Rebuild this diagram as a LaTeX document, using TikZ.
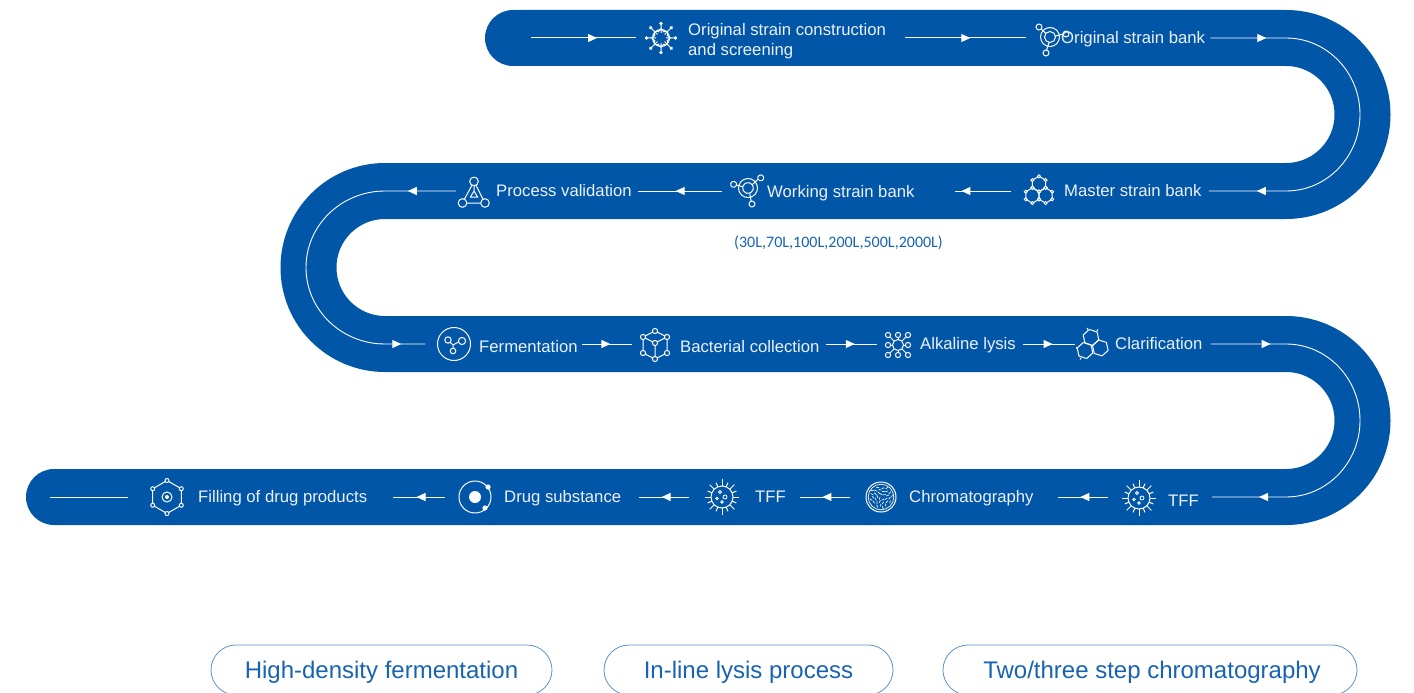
\documentclass[tikz,border=0pt]{standalone}
\usepackage{fontspec}
\setmainfont{Liberation Sans}
\newfontfamily\volfont{Carlito}
\usetikzlibrary{arrows.meta, decorations.markings}

\definecolor{bandblue}{HTML}{0256A8}
\definecolor{inkblue}{HTML}{1763B2}
\definecolor{pillblue}{HTML}{5C93C8}

\newcommand{\hexring}[4]{\draw[iconline,shift={(#1,#2)},rotate=#3] (30:#4)--(90:#4)--(150:#4)--(210:#4)--(270:#4)--(330:#4)--cycle;}

\tikzset{
  band/.style={draw=bandblue,line width=56pt,line cap=round},
  flow/.style={draw=white,line width=1pt,postaction={decorate},
    decoration={markings,mark=at position #1 with {\arrow{Triangle[length=9pt,width=8pt]}}}},
  longflow/.style 2 args={draw=white,line width=.9pt,postaction={decorate},
    decoration={markings,
      mark=at position #1 with {\arrow{Triangle[length=9pt,width=8pt]}},
      mark=at position #2 with {\arrow{Triangle[length=9pt,width=8pt]}}}},
  steplabel/.style={anchor=base west,inner sep=0pt,text=white!92!bandblue,font=\fontsize{16.7}{20}\selectfont},
  iconnode/.style={circle,inner sep=0pt,minimum size=#1},
  iconline/.style={draw=white,line width=1pt},
  pill/.style={draw=pillblue,line width=.8pt,rounded corners=25pt,minimum height=50pt,inner sep=0pt,
    text height=21.2pt,text depth=5pt,text=inkblue,font=\fontsize{24}{28}\selectfont},
  snowicon/.pic={
    \draw[iconline] (0,0) circle (8.5);
    \foreach \a in {0,45,...,315} {
      \draw[iconline,rotate=\a] (5,0)--(13,0) (6,-3)--(9.5,0)--(6,3);
      \fill[white,rotate=\a] (14.5,0) circle (1.8);}
  },
  branchicon/.pic={
    \draw[iconline] (0,0) circle (5.5) (0,0) circle (9.5);
    \draw[iconline] (-11,-10) circle (3) (16,-3) circle (3) (-4,16) circle (3);
    \draw[iconline] (-8.8,-8)--(-4,-3.5) (13,-3)--(5.5,-1) (-3.4,13)--(-1,5.5);
  },
  clusterhex/.pic={
    \foreach \cx/\cy in {0/-6.6,-6.6/5,6.6/5} {
      \hexring{\cx}{\cy}{0}{7.6}
      \foreach \a in {30,90,...,330}
        \draw[iconline,fill=bandblue,shift={(\cx,\cy)}] (\a:7.6) circle (1.5);}
  },
  triangleicon/.pic={
    \draw[iconline] (0,-9.6) circle (4.3) (-11.5,12) circle (4.3) (11,12) circle (4.3);
    \draw[iconline] (-2,-5.8)--(-9.6,8.2) (2,-5.8)--(9,8.2) (-7.2,12)--(6.7,12);
    \draw[iconline] (0,-5.3)--(0,0) (-3.5,6)--(3.5,6)--(0,0)--cycle;
  },
  fermicon/.pic={
    \draw[iconline] (0,0) circle (16.5);
    \draw[iconline] (-6,-4) circle (3.2) (8,-3) circle (3.6) (-1,7) circle (2.8);
    \draw[iconline] (-3.8,-1.7)--(-1,1)--(4.6,-2.2) (-1,1)--(-1,4.2);
  },
  cubeicon/.pic={
    \draw[iconline] (0,-14)--(12,-8)--(12,8)--(0,14)--(-12,8)--(-12,-8)--cycle;
    \draw[iconline] (-12,-8)--(0,-2)--(12,-8) (0,-2)--(0,14);
    \foreach \p in {(0,-14),(12,-8),(12,8),(0,14),(-12,8),(-12,-8),(0,-2)}
      \draw[iconline,fill=bandblue] \p circle (2.6);
  },
  alkaicon/.pic={
    \foreach \p in {(-10,-10),(0,-10),(10,-10),(-10,0),(10,0),(-10,10),(0,10),(10,10)} {
      \draw[iconline] (0,0)--\p;
      \draw[iconline,fill=bandblue] \p circle (2.6);}
    \draw[iconline,fill=bandblue] (0,0) circle (5.5);
  },
  clearicon/.pic={
    \hexring{-1}{-6.5}{12}{8.2}
    \hexring{8.3}{3.9}{12}{8.2}
    \hexring{-7}{6.5}{12}{8.2}
    \draw[iconline] (-15,5)--(-15.5,3) (-11,14)--(-12,15.5) (-4,-14.5)--(-5,-16) (5,-13)--(6,-14.5);
  },
  spikeicon/.pic={
    \draw[iconline] (0,0) circle (11);
    \foreach \a/\e in {0/17,22.5/15.5,45/17.5,67.5/15.5,90/18,112.5/15.5,135/17.5,157.5/15.5,
      180/17,202.5/15.5,225/17.5,247.5/15.5,270/18,292.5/15.5,315/17.5,337.5/15.5} {
      \draw[iconline,rotate=\a] (11,0)--(\e,0);}
    \draw[iconline,line width=.8pt] (-2,-5) circle (1.5) (3,0) circle (2) (-5,1.5) circle (1.3) (0,5) circle (1.3);
  },
  dishicon/.pic={
    \draw[iconline] (0,0) circle (15);
    \draw[iconline,line width=.7pt] (0,0) circle (12.8);
    \foreach \k in {1,...,34} {
      \draw[white,line width=.7pt,shift={(\k*137.5:{11*sqrt(\k/34)})},rotate=\k*71] (-1.4,0)--(1.4,0);}
  },
  orbiticon/.pic={
    \draw[iconline] (0,0) circle (16);
    \fill[white] (0,0) circle (6) (13,-10) circle (2.6) (10,11) circle (2.6);
  },
  fillicon/.pic={
    \hexring{0}{0}{0}{16.5}
    \foreach \a in {30,90,...,330}
      \draw[iconline,fill=bandblue] (\a:16.5) circle (2);
    \draw[iconline] (0,0) circle (5);
    \fill[white] (0,0) circle (2);
  }
}

\begin{document}
\begin{tikzpicture}[x=1pt,y=-1pt]
  \useasboundingbox (0,0) rectangle (1414,693);

  \coordinate (row1) at (0,38);
  \coordinate (row2) at (0,191);
  \coordinate (row3) at (0,344);
  \coordinate (row4) at (0,497);

  \draw[band] (513,38) -- (1286,38) arc[start angle=90,end angle=-90,radius=76.5pt]
    -- (385,191) arc[start angle=90,end angle=270,radius=76.5pt]
    -- (1286,344) arc[start angle=90,end angle=-90,radius=76.5pt]
    -- (54,497);

  \node[iconnode=32pt] (snow) at (661,38) {};
  \node[iconnode=28pt] (branchA) at (1050,37) {};
  \node[iconnode=31pt] (cluster) at (1039,190.5) {};
  \node[iconnode=38pt] (branchB) at (748,188) {};
  \node[iconnode=32pt] (triangle) at (474,191) {};
  \node[iconnode=33pt] (ferm) at (454,344) {};
  \node[iconnode=31pt] (cube) at (655,345) {};
  \node[iconnode=28pt] (alka) at (898,345) {};
  \node[iconnode=31pt] (clear) at (1092,344) {};
  \node[iconnode=36pt] (spikeA) at (1139,498) {};
  \node[iconnode=31pt] (dish) at (881,497) {};
  \node[iconnode=36pt] (spikeB) at (722,497) {};
  \node[iconnode=33pt] (orbit) at (475,497) {};
  \node[iconnode=34pt] (fill) at (167,497) {};

  \pic at (snow) {snowicon};
  \pic at (branchA) {branchicon};
  \pic at (cluster) {clusterhex};
  \pic[rotate=28] at (branchB) {branchicon};
  \pic at (triangle) {triangleicon};
  \pic at (ferm) {fermicon};
  \pic at (cube) {cubeicon};
  \pic at (alka) {alkaicon};
  \pic at (clear) {clearicon};
  \pic at (spikeA) {spikeicon};
  \pic at (dish) {dishicon};
  \pic at (spikeB) {spikeicon};
  \pic at (orbit) {orbiticon};
  \pic at (fill) {fillicon};

  \node[steplabel,anchor=west,align=left] (construct) at (688,41.5) {Original strain construction\\and screening};
  \node[steplabel] (bank) at (1061,44) {Original strain bank};
  \node[steplabel] (master) at (1064,196) {Master strain bank};
  \node[steplabel] (working) at (767,197) {Working strain bank};
  \node[steplabel] (process) at (496,196) {Process validation};
  \node[steplabel] (fermtext) at (479,352) {Fermentation};
  \node[steplabel] (bacteria) at (680,352) {Bacterial collection};
  \node[steplabel] (lysis) at (920,349) {Alkaline lysis};
  \node[steplabel] (clarify) at (1115,349) {Clarification};
  \node[steplabel] (tffA) at (1168,506) {TFF};
  \node[steplabel] (chrom) at (909,502) {Chromatography};
  \node[steplabel] (tffB) at (755,502) {TFF};
  \node[steplabel] (drug) at (504,502) {Drug substance};
  \node[steplabel] (filling) at (198,502) {Filling of drug products};

  \node[text=inkblue,inner sep=0pt,font=\volfont\fontsize{16}{19}\selectfont] (volumes) at (838.5,242.5) {(30L,70L,100L,200L,500L,2000L)};

  \node[pill,minimum width=341pt] (density) at (381.5,670) {High-density fermentation};
  \node[pill,minimum width=289pt] (inline) at (748.5,670) {In-line lysis process};
  \node[pill,minimum width=414pt] (steps) at (1150,670) {\hspace*{4pt}Two/three step chromatography};

  \coordinate (begin) at (531,38);
  \coordinate (finish) at (50,497);

  \draw[flow=.63] (begin) -- ([xshift=-9pt]snow.west |- row1);

  % rightward steps
  \foreach \s/\t/\r/\p/\q/\m in {construct/branchA/row1/19/10/.54, fermtext/cube/row3/4/7.5/.57,
    bacteria/alka/row3/6/7/.57, lysis/clear/row3/7/1.5/.57} {
    \draw[flow=\m] ([xshift=\p pt]\s.east |- \r) -- ([xshift=-\q pt]\t.west |- \r);}

  % leftward steps
  \foreach \s/\t/\r/\p/\q/\m in {cluster/working/row2/12/40/.88, branchB/process/row2/7/6/.55,
    spikeA/chrom/row4/13/24/.55, dish/tffB/row4/15.5/14/.55,
    spikeB/drug/row4/15/18/.55, orbit/filling/row4/13.5/26/.55} {
    \draw[flow=\m] ([xshift=-\p pt]\s.west |- \r) -- ([xshift=\q pt]\t.east |- \r);}

  \draw[draw=white,line width=1pt] ([xshift=-22pt]fill.west |- row4) -- (finish);

  \draw[longflow={56pt}{-48pt}] ([xshift=5pt]bank.east |- row1) -- (1286,38)
    arc[start angle=90,end angle=-90,x radius=74pt,y radius=76.5pt] -- ([xshift=7pt]master.east |- row2);
  \draw[longflow={48pt}{-24pt}] ([xshift=-2pt]triangle.west |- row2) -- (385,191)
    arc[start angle=90,end angle=270,x radius=79pt,y radius=76.5pt] -- ([xshift=-12pt]ferm.west |- row3);
  \draw[longflow={60pt}{-47pt}] ([xshift=8pt]clarify.east |- row3) -- (1286,344)
    arc[start angle=90,end angle=-90,x radius=74pt,y radius=76.5pt] -- ([xshift=13pt]tffA.east |- row4);
\end{tikzpicture}
\end{document}
